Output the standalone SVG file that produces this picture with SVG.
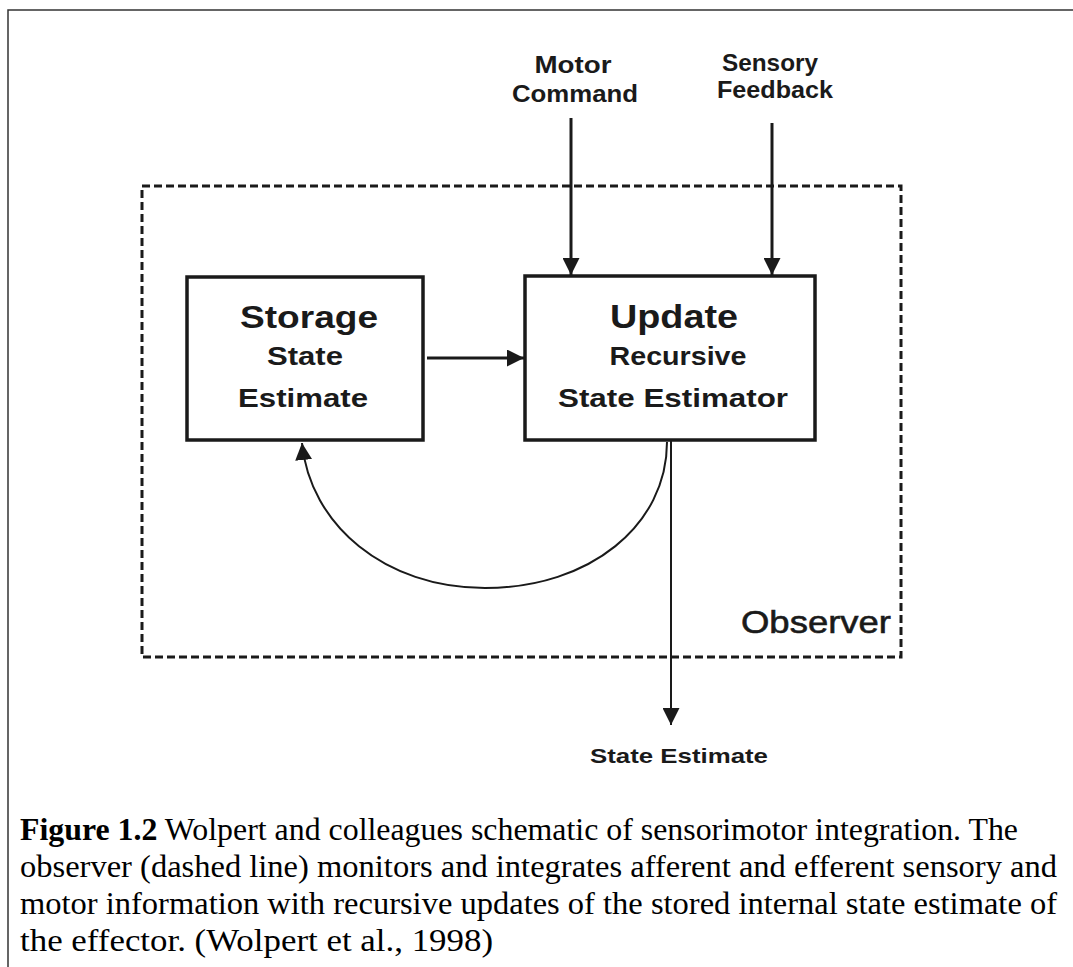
<svg xmlns="http://www.w3.org/2000/svg" width="1073" height="967" viewBox="0 0 1073 967">
<style>
.box{fill:#fff;stroke:#1a1a1a;stroke-width:3.5}
.ln{fill:none;stroke:#1a1a1a;stroke-width:3}
.thin{fill:none;stroke:#1a1a1a;stroke-width:2}
.t{font-family:"Liberation Sans",Arial,sans-serif;font-weight:bold;fill:#1a1a1a;text-anchor:middle}
.cap{font-family:"Liberation Serif","Times New Roman",serif;font-size:32px;fill:#000}
</style>
<defs>
<marker id="ah" viewBox="0 0 10 10" refX="10" refY="5" markerWidth="17" markerHeight="17" markerUnits="userSpaceOnUse" orient="auto">
<path d="M0,0 L10,5 L0,10 z" fill="#1a1a1a"/>
</marker>
</defs>
<rect width="1073" height="967" fill="#fff"/>
<path d="M8,967 L8,10 L1073,10" fill="none" stroke="#333" stroke-width="1.5"/>
<g id="observer">
<rect x="142" y="186" width="759" height="471" fill="none" stroke="#1a1a1a" stroke-width="3" stroke-dasharray="8,4"/>
<text class="t" x="816" y="633" style="font-weight:normal;font-size:32px;stroke:#1a1a1a;stroke-width:0.6" textLength="150" lengthAdjust="spacingAndGlyphs">Observer</text>
</g>
<g id="storage">
<rect class="box" x="187" y="277" width="236" height="163"/>
<text class="t" x="309" y="328" style="font-size:32px" textLength="138" lengthAdjust="spacingAndGlyphs">Storage</text>
<text class="t" x="305" y="365" style="font-size:25px" textLength="76" lengthAdjust="spacingAndGlyphs">State</text>
<text class="t" x="303" y="407" style="font-size:25px" textLength="130" lengthAdjust="spacingAndGlyphs">Estimate</text>
</g>
<g id="update">
<rect class="box" x="525" y="276" width="290" height="164"/>
<text class="t" x="674" y="328" style="font-size:33px" textLength="128" lengthAdjust="spacingAndGlyphs">Update</text>
<text class="t" x="678" y="365" style="font-size:25px" textLength="137" lengthAdjust="spacingAndGlyphs">Recursive</text>
<text class="t" x="673" y="407" style="font-size:25px" textLength="230" lengthAdjust="spacingAndGlyphs">State Estimator</text>
</g>
<g id="motor-command">
<text class="t" x="573" y="73" style="font-size:24px" textLength="77" lengthAdjust="spacingAndGlyphs">Motor</text>
<text class="t" x="575" y="102" style="font-size:24px" textLength="126" lengthAdjust="spacingAndGlyphs">Command</text>
</g>
<g id="sensory-feedback">
<text class="t" x="770" y="71" style="font-size:24px" textLength="96" lengthAdjust="spacingAndGlyphs">Sensory</text>
<text class="t" x="775" y="98" style="font-size:24px" textLength="116" lengthAdjust="spacingAndGlyphs">Feedback</text>
</g>
<g id="state-estimate-out">
<text class="t" x="679" y="763" style="font-size:21px" textLength="178" lengthAdjust="spacingAndGlyphs">State Estimate</text>
</g>
<g id="connectors">
<line class="ln" x1="571" y1="118" x2="571" y2="275" marker-end="url(#ah)"/>
<line class="ln" x1="772" y1="123" x2="772" y2="275" marker-end="url(#ah)"/>
<line class="ln" x1="427" y1="358" x2="524" y2="358" marker-end="url(#ah)"/>
<line class="thin" x1="671" y1="441" x2="671" y2="725" marker-end="url(#ah)"/>
<path class="thin" d="M667,442 C667,525 590,588 485,588 C385,588 310,525 302,443" marker-end="url(#ah)"/>
</g>
<g id="caption">
<text class="cap" x="20" y="840" textLength="998" lengthAdjust="spacingAndGlyphs"><tspan font-weight="bold">Figure 1.2</tspan> Wolpert and colleagues schematic of sensorimotor integration. The</text>
<text class="cap" x="20" y="877" textLength="1037" lengthAdjust="spacingAndGlyphs">observer (dashed line) monitors and integrates afferent and efferent sensory and</text>
<text class="cap" x="20" y="914" textLength="1037" lengthAdjust="spacingAndGlyphs">motor information with recursive updates of the stored internal state estimate of</text>
<text class="cap" x="20" y="951" textLength="473" lengthAdjust="spacingAndGlyphs">the effector. (Wolpert et al., 1998)</text>
</g>
</svg>
